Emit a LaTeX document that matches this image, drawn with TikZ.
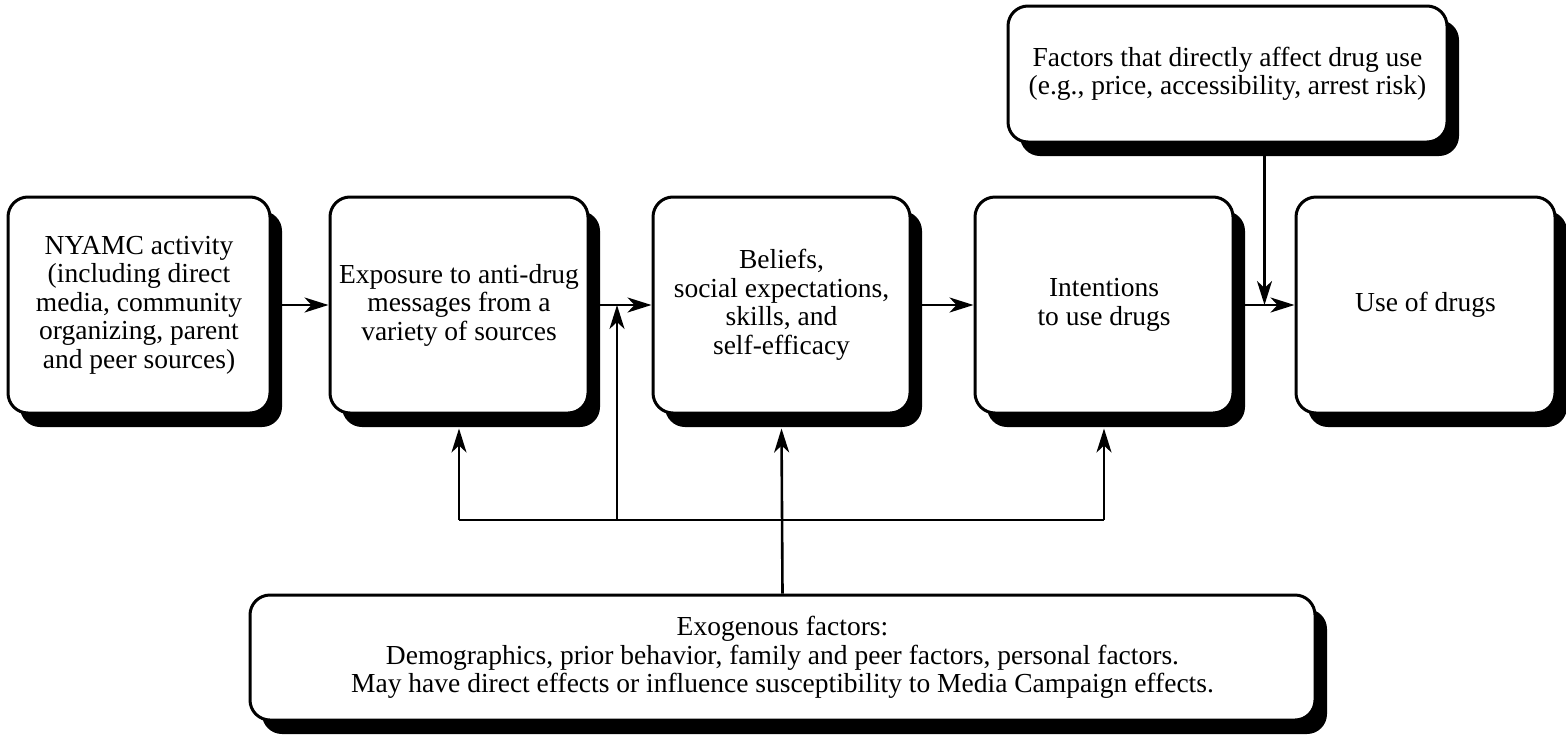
\documentclass[tikz,border=0pt]{standalone}
\usepackage{fontspec}
\setmainfont{Liberation Serif}
\usetikzlibrary{shadows,arrows.meta,calc}
\begin{document}
\begin{tikzpicture}[x=1pt,y=-1pt,
 box/.style={draw, line width=3pt, rounded corners=20pt, fill=white, align=center, inner sep=0pt,
   font=\fontsize{27.5}{28.5}\selectfont,
   drop shadow={shadow xshift=12pt, shadow yshift=-14pt, fill=black, opacity=1}},
 arr/.style={line width=2.6pt, -{Stealth[length=24pt,width=15pt,inset=7pt]}},
 ln/.style={line width=2.6pt}]
\useasboundingbox (0,0) rectangle (1566,734);
\node[box, minimum width=262pt, minimum height=216pt] (nyamc) at (139,305)
  {NYAMC activity\\(including direct\\media, community\\organizing, parent\\and peer sources)};
\node[box, minimum width=258pt, minimum height=216pt] (expo) at (459,305)
  {Exposure to anti-drug\\messages from a\\variety of sources};
\node[box, minimum width=257pt, minimum height=216pt] (beliefs) at (781.5,305)
  {Beliefs,\\social expectations,\\skills, and\\self-efficacy};
\node[box, minimum width=258pt, minimum height=216pt] (intent) at (1104,305)
  {Intentions\\to use drugs};
\node[box, minimum width=259pt, minimum height=216pt] (use) at (1425.5,305)
  {Use of drugs};
\node[box, minimum width=439pt, minimum height=136pt] (factors) at (1227.5,74)
  {Factors that directly affect drug use\\(e.g., price, accessibility, arrest risk)};
\node[box, minimum width=1065pt, minimum height=125pt] (exo) at (782.5,657.5)
  {Exogenous factors:\\Demographics, prior behavior, family and peer factors, personal factors.\\May have direct effects or influence susceptibility to Media Campaign effects.};

\coordinate (busL) at (459,520);
\coordinate (busR) at (1104,520);
\coordinate (busM) at (617,520);
\coordinate (ftop) at (1264.5,154);

\draw[arr] (nyamc.east) -- (expo.west);
\draw[arr] (expo.east) -- (beliefs.west);
\draw[arr] (beliefs.east) -- (intent.west);
\draw[arr] (intent.east) -- (use.west);
\draw[ln] (busL) -- (busR);
\draw[arr] (exo.north) -- ($(beliefs.south)+(0,14)$);
\draw[arr] (busL) -- ($(expo.south)+(0,14)$);
\draw[arr] (busR) -- ($(intent.south)+(0,14)$);
\draw[arr] (busM) -- (busM |- expo.east);
\draw[arr] (ftop) -- (ftop |- intent.east);
\end{tikzpicture}
\end{document}
